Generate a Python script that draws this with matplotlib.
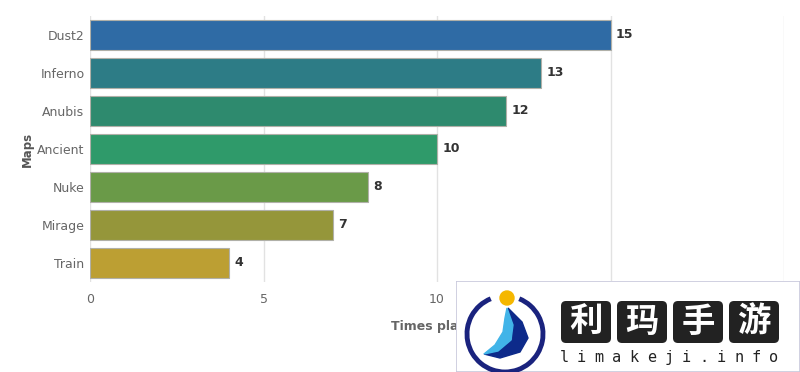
import numpy as np
import matplotlib.pyplot as plt
from matplotlib.patches import Arc, Circle, FancyBboxPatch, Polygon, Rectangle

maps = ["Dust2", "Inferno", "Anubis", "Ancient", "Nuke", "Mirage", "Train"]
times_played = [15, 13, 12, 10, 8, 7, 4]
bar_colors = ["#2f6ba5", "#2d7c86", "#2e8a6e", "#2f9a6a", "#6a9a48", "#95963a", "#bc9f33"]
x_ticks = [0, 5, 10, 15, 20]

fig = plt.figure(figsize=(8, 3.72), dpi=100)
ax = fig.add_axes([90 / 800, 1 - 282 / 372, 694 / 800, 266 / 372])

y = np.arange(len(maps))
ax.barh(y, times_played, height=0.8, color=bar_colors,
        edgecolor="#b0b0a8", linewidth=0.8, zorder=3)
for yi, v in zip(y, times_played):
    ax.annotate(str(v), (v, yi), xytext=(4, 0), textcoords="offset points",
                va="center", ha="left", fontsize=9, fontweight="bold", color="#333333")

ax.set_xlim(0, 20)
ax.set_ylim(len(maps) - 0.5, -0.5)
ax.set_yticks(y)
ax.set_yticklabels(maps)
ax.set_xticks(x_ticks)
ax.tick_params(length=0, labelsize=9, colors="#666666", pad=4)
ax.tick_params(axis="x", pad=8)
ax.grid(axis="x", color="#e2e2e2", linewidth=1, zorder=0)
for s in ax.spines.values():
    s.set_visible(False)
ax.set_xlabel("Times played", fontsize=9, fontweight="bold", color="#666666", labelpad=10)
ax.set_ylabel("Maps", fontsize=8.5, fontweight="bold", color="#555555", labelpad=2)

# watermark overlay in the lower right corner
wm = fig.add_axes([456 / 800, 0, 344 / 800, 91 / 372])
wm.set_xlim(456, 800)
wm.set_ylim(372, 281)
wm.axis("off")
wm.add_patch(Rectangle((456, 281), 344, 91, facecolor="white",
                       edgecolor="#c8c8dc", linewidth=1.2))
wm.add_patch(Arc((505, 334), 76, 76, theta1=-68, theta2=248,
                 color="#1a237e", linewidth=3.5))
wm.add_patch(Circle((507, 298), 7, color="#f5b700"))
wm.add_patch(Polygon([(508, 308), (522, 322), (528, 338), (520, 352), (500, 358),
                      (484, 354), (500, 350), (512, 340), (513, 325)], color="#0d2a8a"))
wm.add_patch(Polygon([(507, 308), (513, 325), (511, 340), (498, 351), (484, 354),
                      (495, 345), (503, 332), (505, 318)], color="#41b4e8"))
chars = ["利", "玛", "手", "游"]
for i, ch in enumerate(chars):
    x0 = 561 + i * 56
    wm.add_patch(FancyBboxPatch((x0, 301), 50, 42, boxstyle="round,pad=0,rounding_size=5",
                                facecolor="#222222", edgecolor="none"))
    wm.text(x0 + 25, 322, ch, ha="center", va="center", fontsize=24, color="white",
            fontweight="bold", family=["Noto Sans CJK SC", "DejaVu Sans"])
for i, ch in enumerate("limakeji.info"):
    wm.text(564 + i * 17.5, 358, ch, ha="center", va="center", fontsize=11,
            color="#222222", family="DejaVu Sans Mono")

fig.savefig("out.png", dpi=100)
